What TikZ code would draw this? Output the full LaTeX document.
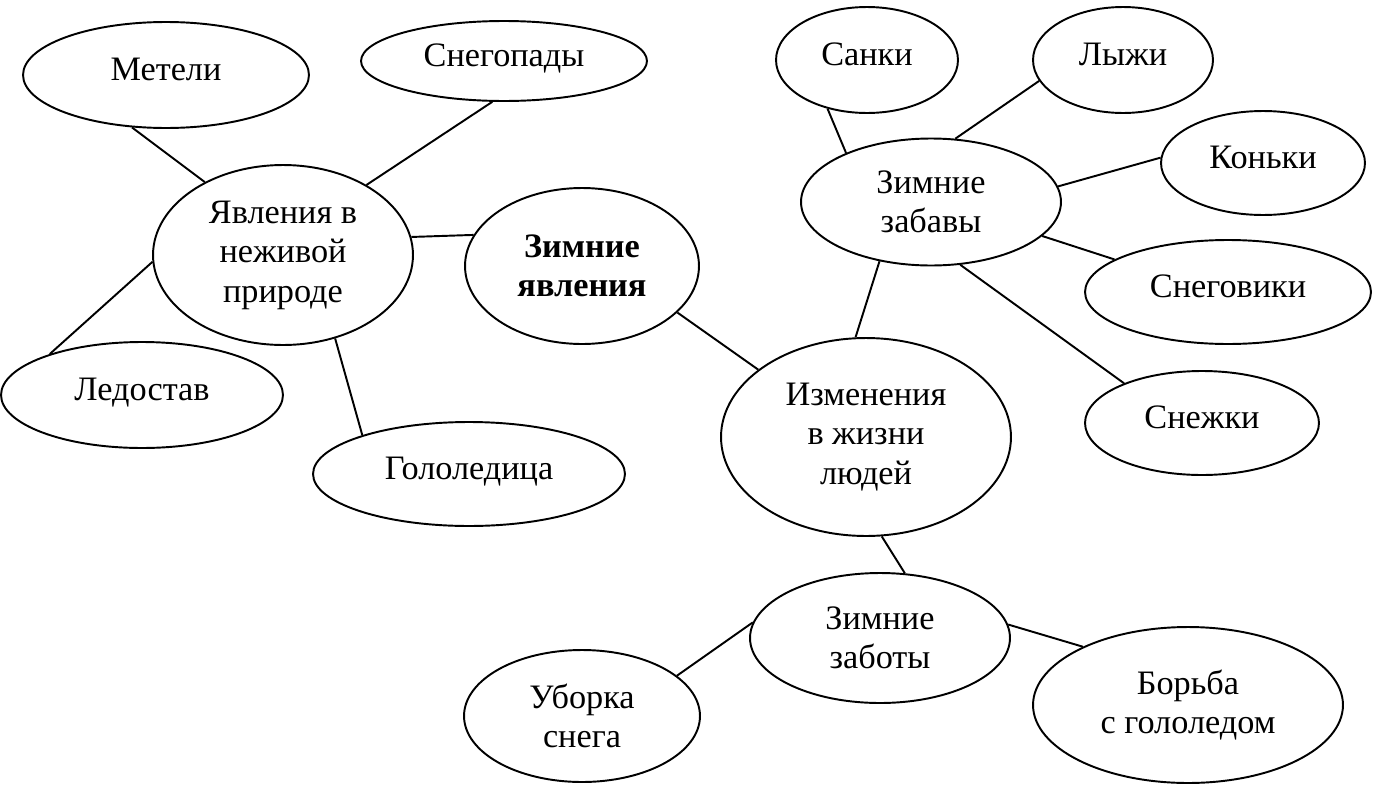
\documentclass[tikz,border=0pt]{standalone}
\usepackage{fontspec}
\setmainfont{Liberation Serif}
\usetikzlibrary{shapes.geometric}
\begin{document}
\begin{tikzpicture}[x=0.02cm,y=-0.02cm,
        bubble/.style={
        draw=black, line width=1.1pt,
        ellipse,inner sep=0pt,align=center,
        font=\fontsize{19.5}{22.5}\selectfont},
        oneline/.style={bubble, text depth=0.22cm},
        link/.style={draw=black, line width=1.1pt}]
        \useasboundingbox (0,0) rectangle (1373,788);
        %inanimate nature
        \node[oneline,minimum width=5.72cm,minimum height=2.12cm] (meteli) at (166,75) {Метели};
        \node[oneline,minimum width=5.72cm,minimum height=1.6cm] (snegopady) at (504,61) {Снегопады};
        \node[bubble,minimum width=5.2cm,minimum height=3.6cm] (nezhivaya) at (283,255)
            {Явления в\\неживой\\природе};
        \node[oneline,minimum width=5.64cm,minimum height=2.12cm] (ledostav) at (142,395) {Ледостав};
        \node[oneline,minimum width=6.24cm,minimum height=2.08cm] (gololeditsa) at (469,474) {Гололедица};
        %centre
        \node[bubble,minimum width=4.68cm,minimum height=3.12cm,
            font=\fontsize{19.5}{22.5}\selectfont\bfseries] (yavleniya) at (582,266) {Зимние\\явления};
        %people
        \node[bubble,minimum width=5.8cm,minimum height=3.96cm] (izmeneniya) at (866,437)
            {Изменения\\в жизни\\людей};
        %fun
        \node[bubble,minimum width=5.2cm,minimum height=2.54cm] (zabavy) at (931,202) {Зимние\\забавы};
        \node[oneline,minimum width=3.64cm,minimum height=2.12cm] (sanki) at (867,60) {Санки};
        \node[oneline,minimum width=3.6cm,minimum height=2.12cm] (lyzhi) at (1123,60) {Лыжи};
        \node[oneline,minimum width=4.08cm,minimum height=2.08cm] (konki) at (1263,163) {Коньки};
        \node[oneline,minimum width=5.72cm,minimum height=2.08cm] (snegoviki) at (1228,292) {Снеговики};
        \node[oneline,minimum width=4.68cm,minimum height=2.08cm] (snezhki) at (1202,423) {Снежки};
        %chores
        \node[bubble,minimum width=5.2cm,minimum height=2.6cm] (zaboty) at (880,638) {Зимние\\заботы};
        \node[bubble,minimum width=4.72cm,minimum height=2.64cm] (uborka) at (582,716) {Уборка\\снега};
        \node[bubble,minimum width=6.2cm,minimum height=3.12cm] (borba) at (1188,705)
            {Борьба\\с гололедом};
        %lines
        \foreach \a/\b in
        {meteli.-123.7/nezhivaya.137.3, snegopady.-106.1/nezhivaya.40.9,
            nezhivaya.8.25/yavleniya.164.5, ledostav.156/nezhivaya.-177.3,
            nezhivaya.-58.1/gololeditsa.160, yavleniya.-26.8/izmeneniya.148.2,
            sanki.-129/zabavy.150.8, lyzhi.-166.6/zabavy.69.4,
            konki.177.8/zabavy.7.9, snegoviki.164.4/zabavy.-17.3,
            snezhki.153.4/zabavy.-65.9, zabavy.-131.5/izmeneniya.96.9,
            izmeneniya.-81.1/zaboty.69, zaboty.173.8/uborka.23.8,
            zaboty.6.2/borba.151.2}
        \draw[link] (\a) -- (\b);
    \end{tikzpicture}
\end{document}
